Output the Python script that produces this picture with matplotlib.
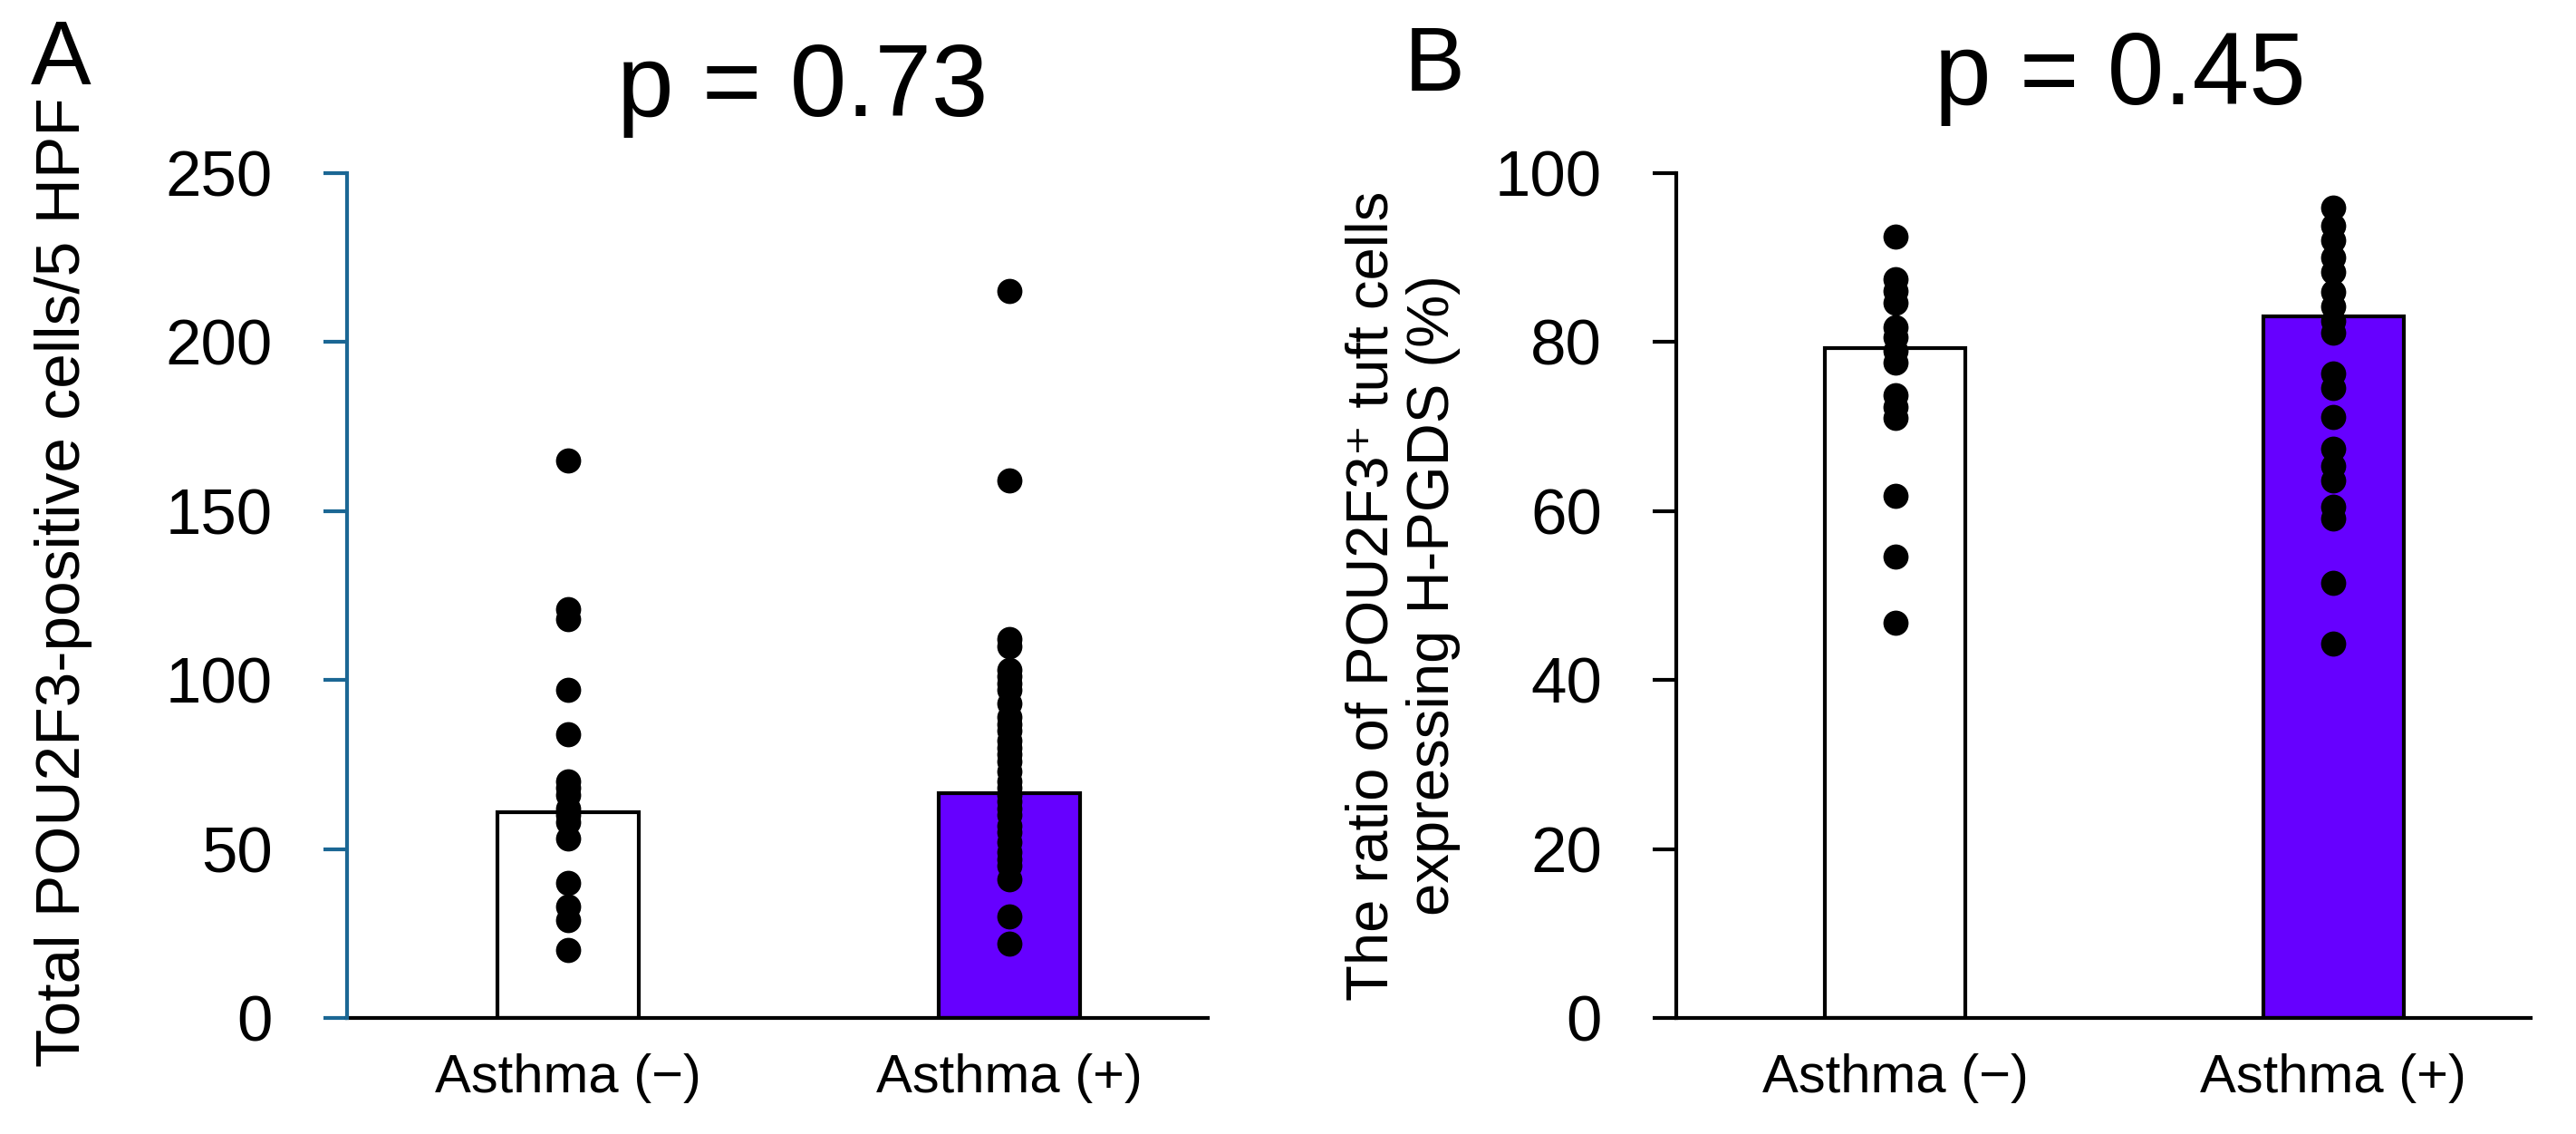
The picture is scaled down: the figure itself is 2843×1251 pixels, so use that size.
import matplotlib
matplotlib.use("Agg")
import matplotlib.pyplot as plt

plt.rcParams['font.family'] = ['Liberation Sans', 'DejaVu Sans']

groups = ["Asthma (\u2212)", "Asthma (+)"]

# panel A: total POU2F3-positive cells / 5 HPF
a_bars = [61.0, 66.6]
a_neg = [165, 121, 118, 97, 84, 70, 68, 66, 62, 60, 58, 53, 40, 33, 29, 20]
a_pos = [215, 159, 112, 110, 103, 101, 99, 97, 93, 89, 87, 85, 82, 80, 78, 76,
         73, 70, 68, 66, 64, 62, 60, 57, 55, 52, 49, 47, 45, 41, 30, 22]
a_ticks = [0, 50, 100, 150, 200, 250]

# panel B: ratio of POU2F3+ tuft cells expressing H-PGDS (%)
b_bars = [79.3, 83.0]
b_neg = [92.5, 87.5, 86.0, 84.7, 81.8, 80.6, 79.0, 77.6, 73.7, 72.3, 71.0,
         61.8, 54.6, 46.8]
b_pos = [95.9, 93.8, 92.1, 90.0, 88.3, 85.9, 84.2, 82.5, 81.1, 76.3, 74.6,
         71.1, 67.4, 65.3, 63.6, 60.5, 59.1, 51.5, 44.3]
b_ticks = [0, 20, 40, 60, 80, 100]

bar_colors = ["white", "#6600ff"]

W, H = 2843, 1251
fig = plt.figure(figsize=(W / 100, H / 100), dpi=100)

axA = fig.add_axes([383 / W, 1 - 1123 / H, 950 / W, 932 / H])
axB = fig.add_axes([1850 / W, 1 - 1123 / H, 943 / W, 932 / H])


def panel(ax, bars, neg, pos, ticks, spine_col):
    x = [0, 1]
    ax.bar(x, bars, width=0.32, color=bar_colors, edgecolor="black",
           linewidth=3, zorder=2)
    ax.scatter([0] * len(neg), neg, s=400, color="black", zorder=3,
               linewidths=0)
    ax.scatter([1] * len(pos), pos, s=400, color="black", zorder=3,
               linewidths=0)
    ax.set_xlim(-0.5, 1.45)
    ax.set_ylim(ticks[0], ticks[-1])
    ax.set_yticks(ticks)
    ax.set_xticks(x)
    ax.set_xticklabels(groups, fontsize=43)
    for s in ["top", "right"]:
        ax.spines[s].set_visible(False)
    ax.spines["left"].set_color(spine_col)
    ax.spines["left"].set_linewidth(3)
    ax.spines["bottom"].set_linewidth(3)
    ax.spines["left"].set_zorder(4)
    ax.tick_params(axis="y", length=19, width=3, color=spine_col,
                   labelsize=51, pad=40)
    ax.tick_params(axis="x", length=0, pad=28)
    for sp in ax.spines.values():
        sp.set_clip_on(False)


panel(axA, a_bars, a_neg, a_pos, a_ticks, "#1b6794")
panel(axB, b_bars, b_neg, b_pos, b_ticks, "black")

# y labels
fig.text(70 / W, 1 - 642 / H, "Total POU2F3-positive cells/5 HPF",
         rotation=90, ha="center", va="center", fontsize=50)
fig.text(1548 / W, 1 - 657 / H,
         "The ratio of POU2F3\u207a tuft cells\nexpressing H-PGDS (%)",
         rotation=90, ha="center", va="center", fontsize=47,
         multialignment="center", linespacing=1.15)

# panel letters and p-values
fig.text(34 / W, 1 - 93 / H, "A", fontsize=72, ha="left", va="baseline")
fig.text(1550 / W, 1 - 100 / H, "B", fontsize=72, ha="left", va="baseline")
fig.text(886 / W, 1 - 128 / H, "p = 0.73", fontsize=81, ha="center",
         va="baseline")
fig.text(2340 / W, 1 - 115 / H, "p = 0.45", fontsize=81, ha="center",
         va="baseline")

fig.savefig("out.png", dpi=100, facecolor="white")
